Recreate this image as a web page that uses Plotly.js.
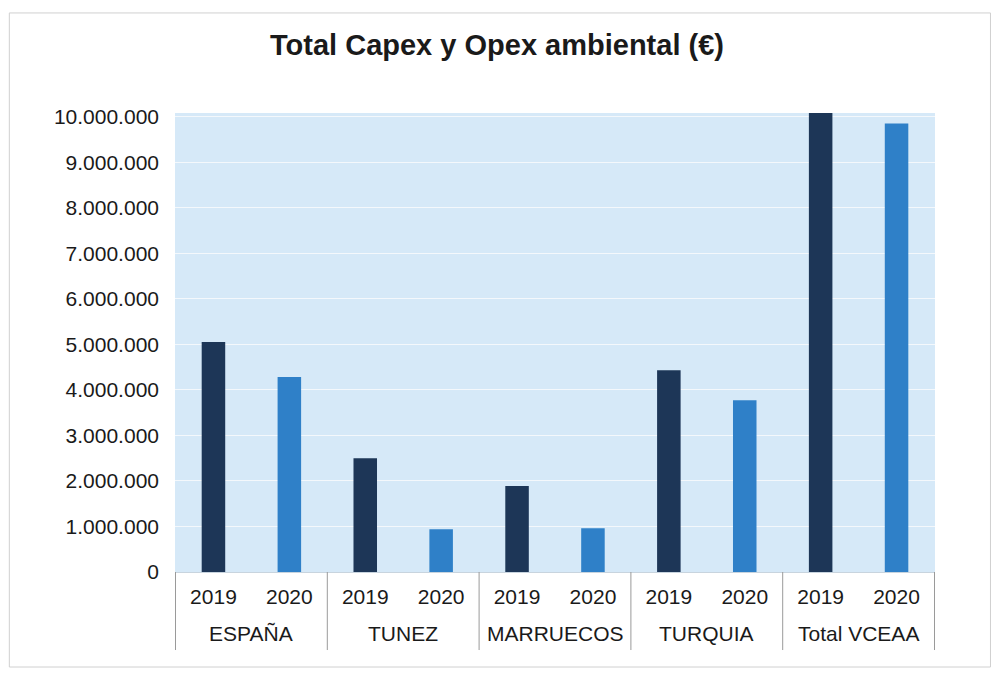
<!DOCTYPE html>
<html><head><meta charset="utf-8">
<script src="https://cdn.plot.ly/plotly-3.0.1.min.js"></script>
<style>body{margin:0;background:#fff}#c{width:998px;height:680px}</style>
</head><body><div id="c"></div>
<script>
const regions = ["ESPAÑA","ESPAÑA","TUNEZ","TUNEZ","MARRUECOS","MARRUECOS","TURQUIA","TURQUIA","Total VCEAA","Total VCEAA"];
const years = ["2019","2020","2019","2020","2019","2020","2019","2020","2019","2020"];
const values = [5050000,4280000,2500000,940000,1890000,960000,4430000,3770000,13870000,9850000];
const barColors = ["#1d3657","#2f80c8","#1d3657","#2f80c8","#1d3657","#2f80c8","#1d3657","#2f80c8","#1d3657","#2f80c8"];
const yTicks = [0,1000000,2000000,3000000,4000000,5000000,6000000,7000000,8000000,9000000,10000000];

const keys = regions.map((r,i)=>r+' '+years[i]);
const groups = [...new Set(regions)];
const groupCenters = groups.map(g=>{const idx=regions.map((r,i)=>r===g?i:-1).filter(i=>i>=0);return (idx[0]+idx[idx.length-1])/2;});
const dividerPos = [-0.5].concat(groups.map(g=>regions.lastIndexOf(g)+0.5));

const annotations = groups.map((g,k)=>({text:g,x:groupCenters[k],xref:'x',y:-0.133,yref:'paper',
  yanchor:'middle',xanchor:'center',showarrow:false,font:{size:21,color:'#1a1a1a'}}));
const shapes = dividerPos.map(p=>({type:'line',xref:'x',x0:p,x1:p,yref:'paper',y0:0,y1:-0.17,
  line:{color:'#9a9a9a',width:1}}));
shapes.push({type:'rect',xref:'paper',yref:'paper',x0:-0.218,x1:1.073,y0:-0.207,y1:1.218,
    line:{color:'#d0d0d0',width:1},fillcolor:'rgba(0,0,0,0)'});

Plotly.newPlot('c',[{
  type:'bar',
  x:keys,
  y:values,
  marker:{color:barColors},
  hoverinfo:'skip'
}],{
  width:998,height:680,
  separators:',.',
  paper_bgcolor:'#ffffff',
  plot_bgcolor:'#d6e9f8',
  margin:{l:175,r:63,t:113,b:108},
  bargap:0.69,
  showlegend:false,
  title:{text:'<b>Total Capex y Opex ambiental (€)</b>',x:0.498,xanchor:'center',y:0.934,yanchor:'middle',
    font:{family:'Liberation Sans, Arial, sans-serif',size:29,color:'#1a1a1a'}},
  font:{family:'Liberation Sans, Arial, sans-serif',color:'#1a1a1a'},
  xaxis:{type:'category',tickvals:keys,ticktext:years,tickangle:0,
    tickfont:{size:21,color:'#1a1a1a'},showgrid:false,showline:true,linecolor:'#c8d4de',ticks:'',
    ticklabelstandoff:6,fixedrange:true},
  yaxis:{range:[0,10080000],tickvals:yTicks,tickformat:',d',tickfont:{size:21,color:'#1a1a1a'},
    gridcolor:'#f4f8fc',gridwidth:1,zeroline:false,ticks:'',ticklen:0,showline:false,ticklabelstandoff:15},
  annotations:annotations,
  shapes:shapes
},{displayModeBar:false,staticPlot:true});
</script></body></html>
